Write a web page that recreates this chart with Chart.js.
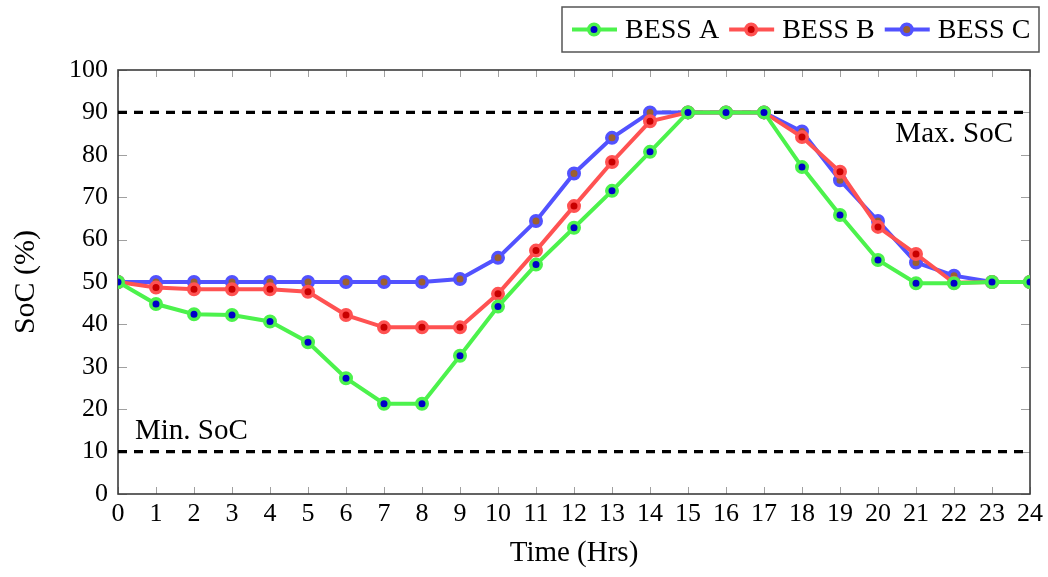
<!DOCTYPE html>
<html>
<head>
<meta charset="utf-8">
<script src="https://cdn.jsdelivr.net/npm/chart.js@4"></script>
<style>
  html, body { margin: 0; padding: 0; background: #fff; }
  #wrap { width: 1048px; height: 577px; }
</style>
</head>
<body>
<div id="wrap"><canvas id="soc_chart" width="1048" height="577"></canvas></div>
<script>
var ctx = document.getElementById('soc_chart');

// Hours of the day
var hours = [0, 1, 2, 3, 4, 5, 6, 7, 8, 9, 10, 11, 12, 13, 14, 15, 16, 17, 18, 19, 20, 21, 22, 23, 24];

// State of charge per battery (%)
var bessA = [50, 44.8, 42.4, 42.2, 40.7, 35.8, 27.3, 21.3, 21.3, 32.6, 44.2, 54.1, 62.8, 71.5, 80.7, 90, 90, 90, 77.1, 65.8, 55.2, 49.7, 49.7, 50, 50];
var bessB = [50, 48.7, 48.3, 48.3, 48.3, 47.7, 42.2, 39.3, 39.3, 39.3, 47.2, 57.4, 67.9, 78.3, 87.9, 90, 90, 90, 84.2, 76.0, 63.0, 56.6, 49.8, 50, 50];
var bessC = [50, 50, 50, 50, 50, 50, 50, 50, 50, 50.7, 55.7, 64.4, 75.6, 84.0, 90, 90, 90, 90, 85.5, 74.0, 64.4, 54.6, 51.5, 50, 50];

// SoC limits
var maxSoc = 90;
var minSoc = 10;

// Colors
var green = '#4cf24c', greenDot = '#0000c8';
var red = '#ff5252', redDot = '#c80000';
var blue = '#5252ff', blueDot = '#9c6030';

var serif = '"Liberation Serif", "DejaVu Serif", serif';

function series(label, values, line, dot) {
  return {
    label: label,
    data: hours.map(function (h, i) { return { x: h, y: values[i] }; }),
    borderColor: line,
    borderWidth: 4,
    pointRadius: 5.25,
    pointBorderWidth: 3.5,
    pointBackgroundColor: dot,
    pointBorderColor: line,
    tension: 0
  };
}

// Frame, inward ticks, limit lines and their labels
var framePlugin = {
  id: 'frame',
  beforeDatasetsDraw: function (chart) {
    var c = chart.ctx, a = chart.chartArea;
    var xs = chart.scales.x, ys = chart.scales.y;
    c.save();
    c.strokeStyle = '#a0a0a0';
    c.lineWidth = 1;
    hours.forEach(function (h) {
      var px = Math.round(xs.getPixelForValue(h)) + 0.5;
      c.beginPath();
      c.moveTo(px, a.bottom); c.lineTo(px, a.bottom - 7);
      c.moveTo(px, a.top); c.lineTo(px, a.top + 7);
      c.stroke();
    });
    for (var v = 0; v <= 100; v += 10) {
      var py = Math.round(ys.getPixelForValue(v)) + 0.5;
      c.beginPath();
      c.moveTo(a.left, py); c.lineTo(a.left + 9, py);
      c.moveTo(a.right, py); c.lineTo(a.right - 9, py);
      c.stroke();
    }
    c.strokeStyle = '#3c3c3c';
    c.lineWidth = 1.6;
    c.strokeRect(a.left, a.top, a.right - a.left, a.bottom - a.top);

    c.strokeStyle = '#000';
    c.lineWidth = 3.2;
    c.setLineDash([9, 7]);
    [maxSoc, minSoc].forEach(function (v) {
      var py = ys.getPixelForValue(v);
      c.beginPath();
      c.moveTo(a.left, py); c.lineTo(a.right, py);
      c.stroke();
    });
    c.setLineDash([]);

    c.fillStyle = '#000';
    c.font = '29px ' + serif;
    c.textBaseline = 'middle';
    c.textAlign = 'right';
    c.fillText('Max. SoC', a.right - 17, ys.getPixelForValue(maxSoc) + 22);
    c.textAlign = 'left';
    c.fillText('Min. SoC', a.left + 17, ys.getPixelForValue(minSoc) - 20);
    c.restore();
  },
  afterDraw: function (chart) {
    // legend box with line + marker samples
    var c = chart.ctx;
    var items = chart.data.datasets;
    var x0 = 562, y0 = 7, w = 477, h = 45, cy = y0 + h / 2;
    c.save();
    c.fillStyle = '#fff';
    c.fillRect(x0, y0, w, h);
    c.strokeStyle = '#555';
    c.lineWidth = 1.5;
    c.strokeRect(x0, y0, w, h);
    c.font = '28px ' + serif;
    c.textBaseline = 'middle';
    c.textAlign = 'left';
    var x = x0 + 10;
    items.forEach(function (ds) {
      c.strokeStyle = ds.borderColor;
      c.lineWidth = ds.borderWidth;
      c.beginPath();
      c.moveTo(x, cy); c.lineTo(x + 45, cy);
      c.stroke();
      c.beginPath();
      c.arc(x + 22, cy, ds.pointRadius, 0, Math.PI * 2);
      c.fillStyle = ds.pointBackgroundColor;
      c.fill();
      c.lineWidth = ds.pointBorderWidth;
      c.stroke();
      c.fillStyle = '#000';
      c.fillText(ds.label, x + 53, cy + 1);
      x += 53 + c.measureText(ds.label).width + 10;
    });
    c.restore();
  }
};

var config = {
  type: 'line',
  data: {
    datasets: [
      series('BESS A', bessA, green, greenDot),
      series('BESS B', bessB, red, redDot),
      series('BESS C', bessC, blue, blueDot)
    ]
  },
  options: {
    responsive: false,
    animation: false,
    layout: { padding: { top: 70, right: 18, left: 0, bottom: 0 } },
    plugins: {
      legend: { display: false },
      tooltip: { enabled: false }
    },
    scales: {
      x: {
        type: 'linear',
        min: 0,
        max: 24,
        ticks: { stepSize: 1, color: '#000', font: { family: serif, size: 26 }, padding: 5, maxRotation: 0, autoSkip: false },
        grid: { display: false, drawTicks: false },
        border: { display: false },
        title: { display: true, text: 'Time (Hrs)', color: '#000', font: { family: serif, size: 29 }, padding: { top: 0, bottom: 6 } },
        afterFit: function (s) { s.height = 83; }
      },
      y: {
        min: 0,
        max: 100,
        ticks: { stepSize: 10, color: '#000', font: { family: serif, size: 26 }, padding: 10 },
        grid: { display: false, drawTicks: false },
        border: { display: false },
        title: { display: true, text: 'SoC (%)', color: '#000', font: { family: serif, size: 30 }, padding: { top: 8, bottom: 0 } },
        afterFit: function (s) { s.width = 118; }
      }
    }
  },
  plugins: [framePlugin]
};

var myChart = new Chart(ctx, config);
</script>
</body>
</html>
